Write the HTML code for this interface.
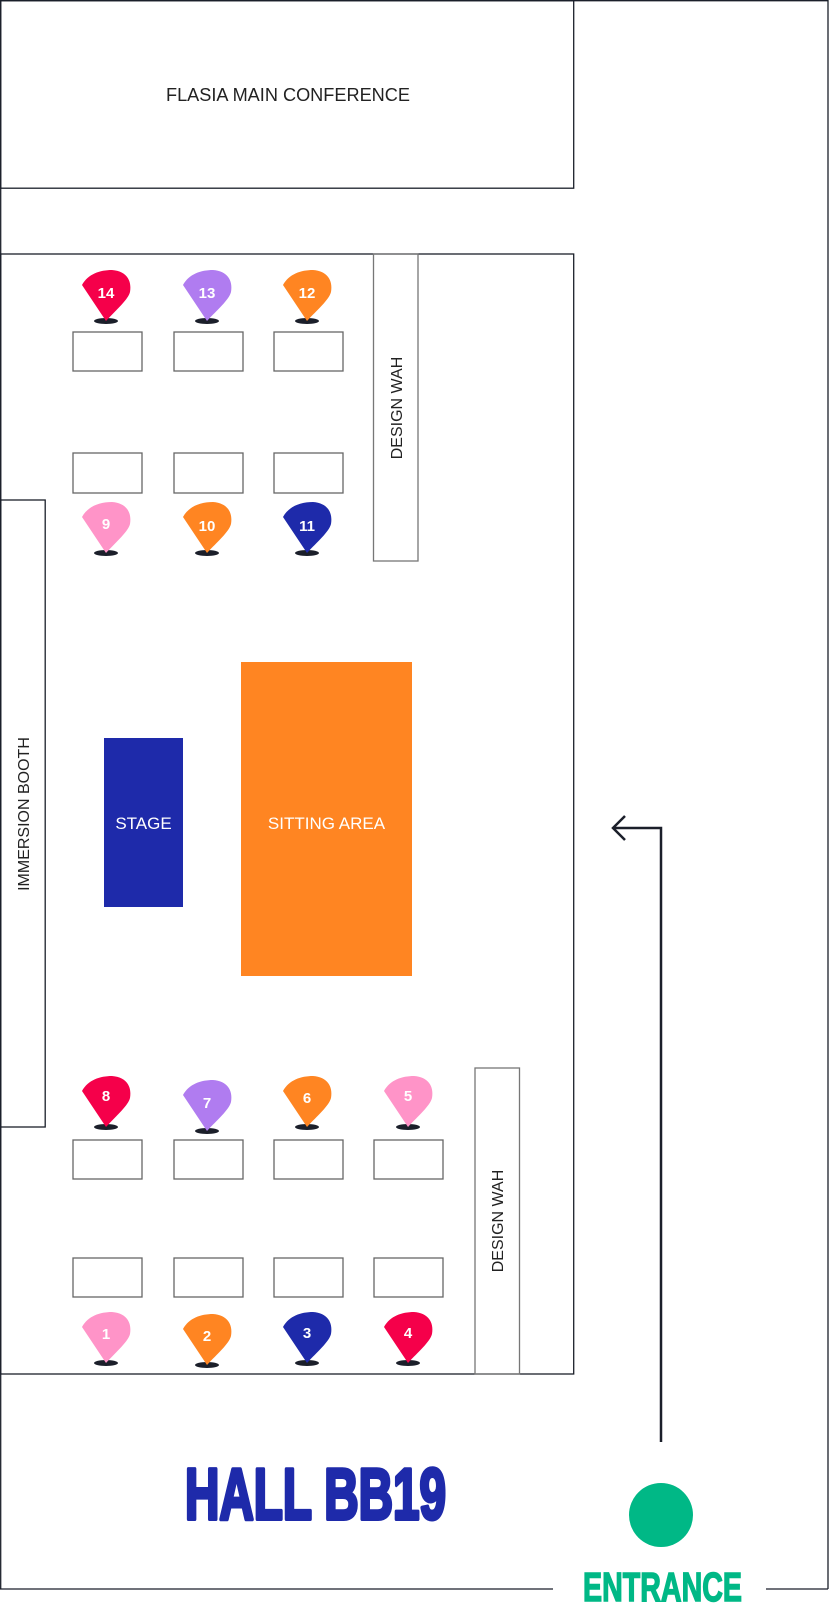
<!DOCTYPE html>
<html><head><meta charset="utf-8"><style>
html,body{margin:0;padding:0;background:#fff;}
svg{display:block;}
text{font-family:"Liberation Sans",sans-serif;}
</style></head><body>
<svg width="829" height="1613" viewBox="0 0 829 1613" xmlns="http://www.w3.org/2000/svg">
<defs>
<g id="pin">
<ellipse cx="0" cy="51" rx="12" ry="3" fill="#1b1f2a"/>
<path d="M-24,15 C-18,4 -6,0 6,0 C20,1 26,10 24,22 C22,30 10,40 0,51 Z"/>
</g>
</defs>
<g fill="none" stroke="#1b1f2a" stroke-width="1.3">
<line x1="0.7" y1="0" x2="0.7" y2="1589"/>
<line x1="0" y1="1589" x2="553" y2="1589"/>
<line x1="766" y1="1589" x2="828" y2="1589"/>
<line x1="828" y1="0" x2="828" y2="1589"/>
<line x1="0" y1="0.7" x2="828" y2="0.7"/>
<rect x="0.7" y="0.7" width="573" height="187.5"/>
<rect x="0.7" y="254" width="573" height="1120"/>
<rect x="0.7" y="500" width="44.5" height="627"/>
<rect x="373.5" y="254" width="44.5" height="307" stroke="#777"/>
<rect x="475" y="1068" width="44.5" height="306" stroke="#777"/>
<g stroke="#666">
<rect x="73" y="332" width="69" height="39"/>
<rect x="174" y="332" width="69" height="39"/>
<rect x="274" y="332" width="69" height="39"/>
<rect x="73" y="453" width="69" height="40"/>
<rect x="174" y="453" width="69" height="40"/>
<rect x="274" y="453" width="69" height="40"/>
<rect x="73" y="1140" width="69" height="39"/>
<rect x="174" y="1140" width="69" height="39"/>
<rect x="274" y="1140" width="69" height="39"/>
<rect x="374" y="1140" width="69" height="39"/>
<rect x="73" y="1258" width="69" height="39"/>
<rect x="174" y="1258" width="69" height="39"/>
<rect x="274" y="1258" width="69" height="39"/>
<rect x="374" y="1258" width="69" height="39"/>
</g>
<polyline points="661,1442 661,828 613,828" stroke-width="2.5"/>
<polyline points="625,816 613,828 625,840" stroke-width="2.5"/>
</g>
<text x="288" y="101" font-size="18" fill="#222" text-anchor="middle" textLength="244" lengthAdjust="spacingAndGlyphs">FLASIA MAIN CONFERENCE</text>
<text transform="translate(402,408) rotate(-90)" font-size="16" fill="#222" text-anchor="middle">DESIGN WAH</text>
<text transform="translate(503,1221) rotate(-90)" font-size="16" fill="#222" text-anchor="middle">DESIGN WAH</text>
<text transform="translate(29,814) rotate(-90)" font-size="16" fill="#222" text-anchor="middle">IMMERSION BOOTH</text>
<rect x="104" y="738" width="79" height="169" fill="#1e2aaa"/>
<text x="143.5" y="829" font-size="17" fill="#fff" text-anchor="middle">STAGE</text>
<rect x="241" y="662" width="171" height="314" fill="#ff8522"/>
<text x="326.5" y="829" font-size="17" fill="#fff" text-anchor="middle">SITTING AREA</text>
<g font-weight="bold" font-size="15" fill="#fff" text-anchor="middle">
<use href="#pin" x="106" y="270" fill="#f5004a"/><text x="106" y="298">14</text>
<use href="#pin" x="207" y="270" fill="#b07cf0"/><text x="207" y="298">13</text>
<use href="#pin" x="307" y="270" fill="#ff8522"/><text x="307" y="298">12</text>
<use href="#pin" x="106" y="502" fill="#ff94c8"/><text x="106" y="529">9</text>
<use href="#pin" x="207" y="502" fill="#ff8522"/><text x="207" y="531">10</text>
<use href="#pin" x="307" y="502" fill="#1e2aaa"/><text x="307" y="531">11</text>
<use href="#pin" x="106" y="1076" fill="#f5004a"/><text x="106" y="1101">8</text>
<use href="#pin" x="207" y="1080" fill="#b07cf0"/><text x="207" y="1108">7</text>
<use href="#pin" x="307" y="1076" fill="#ff8522"/><text x="307" y="1103">6</text>
<use href="#pin" x="408" y="1076" fill="#ff94c8"/><text x="408" y="1101">5</text>
<use href="#pin" x="106" y="1312" fill="#ff94c8"/><text x="106" y="1339">1</text>
<use href="#pin" x="207" y="1314" fill="#ff8522"/><text x="207" y="1341">2</text>
<use href="#pin" x="307" y="1312" fill="#1e2aaa"/><text x="307" y="1338">3</text>
<use href="#pin" x="408" y="1312" fill="#f5004a"/><text x="408" y="1338">4</text>
</g>
<text x="185" y="1519" font-size="72" font-weight="bold" fill="#1e2aaa" stroke="#1e2aaa" stroke-width="4" stroke-linejoin="round" textLength="261" lengthAdjust="spacingAndGlyphs">HALL BB19</text>
<circle cx="661" cy="1515" r="32" fill="#00b886"/>
<text x="583" y="1601" font-size="41" font-weight="bold" fill="#00b886" stroke="#00b886" stroke-width="1.5" textLength="159" lengthAdjust="spacingAndGlyphs">ENTRANCE</text>
</svg>
</body></html>
